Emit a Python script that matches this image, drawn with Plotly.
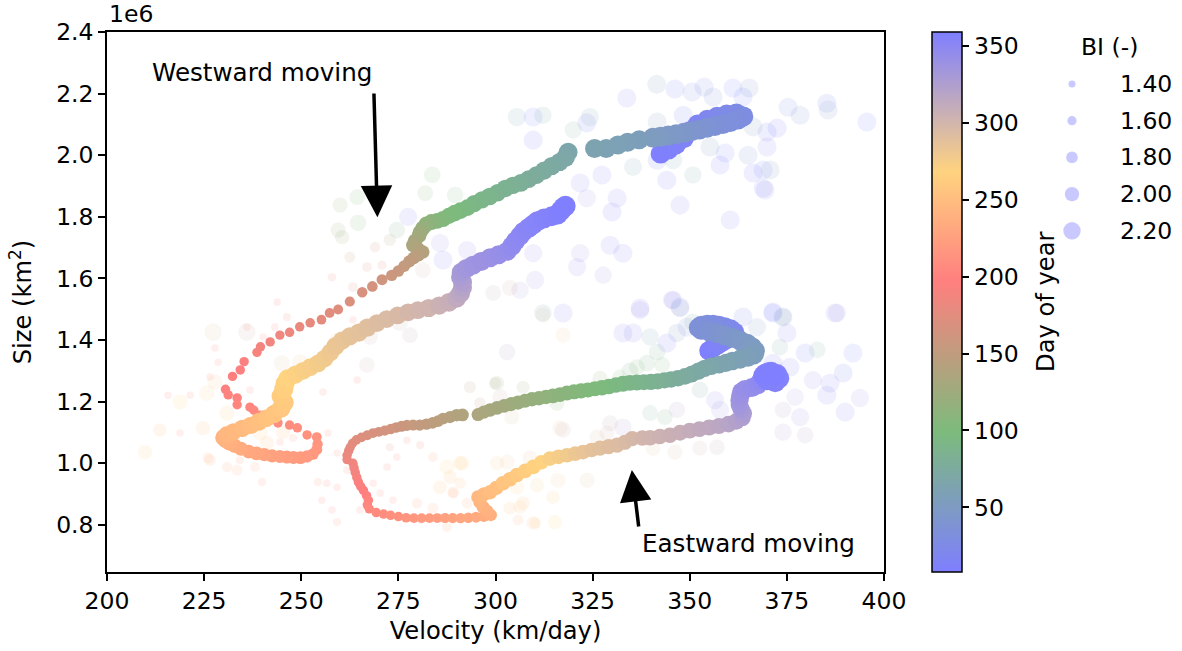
import plotly.graph_objects as go

# ---------------- smoothed tracks (day of year, velocity km/day, size 1e6 km^2, BI) ----
west_day = [8, 10, 12, 14, 16, 18, 20, 22, 24, 26,
            28, 30, 32, 34, 36, 38, 40, 42, 44, 46,
            48, 50, 52, 55, 57, 59, 61, 63, 66, 68,
            70, 72, 74, 76, 78, 80, 82, 84, 86, 88,
            90, 92, 94, 96, 98, 100, 103, 106, 110, 114,
            118, 122, 126, 130, 134, 137, 140, 143, 146, 149,
            152, 155, 158, 161, 164, 167, 170, 173, 175, 177,
            179, 181, 183, 185, 187, 189, 191, 193, 195, 197,
            199, 200, 201, 202, 204, 205, 206, 208, 209, 210,
            212, 214, 216, 217, 218, 219, 220, 221, 222, 224,
            226, 228, 230, 232, 234, 236, 238, 240, 242, 244,
            246, 248, 250, 252, 254, 256, 258, 260, 262, 264,
            266, 268, 270, 272, 274, 276, 278, 280, 282, 284,
            286, 288, 290, 292, 294, 296, 298, 300, 302, 305,
            308, 312, 316, 320, 324, 328, 331, 334, 336, 338,
            340, 342, 344, 346, 348, 350, 351, 352, 353, 354,
            355, 356, 357, 358, 358, 359]
west_vel = [342.5, 344.5, 346.5, 348.5, 350.0, 352.0, 354.5, 357.0, 359.5, 362.0,
            363.8, 362.5, 360.5, 358.5, 356.5, 354.5, 352.5, 350.5, 348.5, 346.5,
            344.5, 342.5, 340.5, 337.0, 334.0, 331.5, 328.5, 325.5, 318.7, 318.0,
            316.5, 314.5, 312.5, 310.5, 308.5, 306.5, 304.5, 302.5, 300.5, 298.5,
            296.5, 294.5, 292.8, 291.0, 289.5, 288.0, 286.5, 285.0, 283.5, 282.2,
            281.3, 280.6, 280.3, 279.3, 278.8, 280.0, 281.3, 280.2, 279.0, 277.8,
            276.5, 275.0, 273.3, 270.8, 268.3, 265.7, 262.5, 259.5, 257.3, 255.2,
            252.3, 249.6, 247.0, 244.5, 242.0, 239.5, 238.6, 235.3, 234.3, 232.3,
            230.5, 231.2, 233.5, 233.5, 236.8, 237.8, 239.5, 244.0, 247.0, 249.0,
            251.5, 254.0, 254.2, 254.0, 253.0, 251.5, 249.8, 248.0, 246.3, 244.5,
            242.5, 240.5, 238.5, 236.5, 234.5, 232.8, 231.5, 230.5, 230.0, 230.8,
            232.5, 234.8, 237.0, 239.0, 241.0, 243.0, 244.8, 245.6, 244.8, 245.5,
            245.8, 246.5, 248.5, 250.5, 252.3, 254.3, 256.0, 257.5, 258.8, 260.5,
            262.5, 264.8, 267.0, 269.5, 272.0, 274.8, 277.5, 280.0, 282.8, 285.5,
            288.0, 290.0, 291.0, 291.5, 291.5, 291.0, 291.2, 292.5, 294.2, 296.3,
            298.6, 300.8, 303.0, 304.2, 305.2, 306.3, 307.2, 308.5, 309.7, 310.8,
            312.5, 314.5, 316.0, 316.8, 317.5, 318.0]
west_size = [2.005, 2.018, 2.035, 2.055, 2.078, 2.100, 2.115, 2.125, 2.132, 2.136,
             2.126, 2.116, 2.108, 2.101, 2.095, 2.089, 2.083, 2.078, 2.073, 2.068,
             2.064, 2.060, 2.057, 2.050, 2.042, 2.033, 2.022, 2.022, 2.010, 1.992,
             1.978, 1.965, 1.950, 1.935, 1.922, 1.910, 1.902, 1.892, 1.878, 1.866,
             1.855, 1.843, 1.830, 1.820, 1.812, 1.803, 1.793, 1.787, 1.783, 1.776,
             1.763, 1.750, 1.738, 1.722, 1.708, 1.697, 1.686, 1.676, 1.667, 1.655,
             1.640, 1.624, 1.610, 1.596, 1.574, 1.555, 1.525, 1.499, 1.488, 1.466,
             1.456, 1.443, 1.425, 1.416, 1.394, 1.378, 1.360, 1.330, 1.303, 1.282,
             1.240, 1.222, 1.212, 1.190, 1.182, 1.172, 1.156, 1.131, 1.124, 1.115,
             1.092, 1.085, 1.062, 1.045, 1.030, 1.022, 1.018, 1.019, 1.020, 1.022,
             1.024, 1.028, 1.032, 1.038, 1.047, 1.057, 1.066, 1.075, 1.083, 1.093,
             1.102, 1.113, 1.123, 1.134, 1.146, 1.160, 1.178, 1.197, 1.218, 1.240,
             1.258, 1.275, 1.288, 1.300, 1.312, 1.324, 1.340, 1.360, 1.380, 1.398,
             1.412, 1.424, 1.440, 1.455, 1.468, 1.480, 1.490, 1.497, 1.504, 1.512,
             1.522, 1.535, 1.552, 1.570, 1.588, 1.605, 1.620, 1.632, 1.643, 1.655,
             1.667, 1.677, 1.688, 1.705, 1.722, 1.738, 1.752, 1.764, 1.775, 1.786,
             1.795, 1.802, 1.808, 1.820, 1.830, 1.835]
west_bi = [2.35, 2.35, 2.35, 2.35, 2.35, 2.35, 2.35, 2.35, 2.35, 2.35,
           2.35, 2.35, 2.35, 2.35, 2.35, 2.35, 2.35, 2.35, 2.35, 2.35,
           2.35, 2.35, 2.35, 2.30, 2.30, 2.30, 2.30, 2.30, 2.28, 2.28,
           2.25, 2.25, 2.25, 2.22, 2.22, 2.22, 2.20, 2.20, 2.20, 2.20,
           2.18, 2.18, 2.15, 2.15, 2.15, 2.12, 2.12, 2.10, 2.10, 2.08,
           2.05, 2.05, 2.02, 2.00, 1.98, 1.95, 1.92, 1.90, 1.88, 1.85,
           1.82, 1.80, 1.78, 1.75, 1.72, 1.70, 1.68, 1.66, 1.65, 1.64,
           1.63, 1.62, 1.62, 1.62, 1.62, 1.62, 1.62, 1.62, 1.62, 1.62,
           1.62, 1.62, 1.62, 1.62, 1.62, 1.62, 1.62, 1.62, 1.62, 1.62,
           1.62, 1.65, 1.70, 1.75, 1.80, 1.85, 1.88, 1.90, 1.90, 1.90,
           1.92, 1.92, 1.95, 1.95, 1.98, 2.00, 2.05, 2.10, 2.15, 2.15,
           2.18, 2.20, 2.20, 2.22, 2.22, 2.25, 2.28, 2.30, 2.30, 2.30,
           2.30, 2.28, 2.25, 2.22, 2.22, 2.22, 2.22, 2.22, 2.25, 2.25,
           2.25, 2.25, 2.25, 2.22, 2.22, 2.22, 2.22, 2.22, 2.25, 2.25,
           2.28, 2.28, 2.30, 2.30, 2.30, 2.30, 2.30, 2.30, 2.30, 2.30,
           2.30, 2.30, 2.30, 2.32, 2.32, 2.32, 2.32, 2.35, 2.35, 2.35,
           2.35, 2.35, 2.38, 2.38, 2.38, 2.38]

east_day = [8, 10, 12, 14, 16, 18, 20, 22, 24, 26,
            28, 30, 32, 34, 36, 38, 40, 42, 44, 46,
            48, 50, 52, 54, 56, 58, 60, 62, 64, 66,
            68, 70, 72, 74, 76, 78, 80, 82, 84, 86,
            88, 90, 92, 94, 96, 98, 100, 102, 104, 106,
            108, 110, 112, 114, 116, 118, 120, 122, 124, 126,
            128, 130, 132, 134, 137, 139, 141, 143, 145, 147,
            149, 151, 153, 155, 157, 159, 161, 163, 165, 167,
            169, 171, 173, 175, 177, 179, 181, 183, 185, 187,
            189, 191, 193, 195, 197, 199, 201, 203, 205, 207,
            209, 211, 213, 215, 217, 219, 221, 223, 225, 227,
            229, 231, 233, 235, 237, 239, 241, 243, 245, 247,
            250, 252, 255, 257, 260, 263, 266, 269, 272, 275,
            278, 281, 284, 287, 289, 291, 293, 295, 297, 300,
            302, 304, 306, 308, 310, 312, 314, 316, 319, 322,
            325, 328, 331, 334, 336, 338, 340, 342, 344, 346,
            348, 350, 352, 353, 354, 355, 356, 357, 358, 358,
            359]
east_vel = [355.0, 356.0, 357.2, 358.5, 359.8, 361.0, 361.5, 360.5, 359.0, 357.5,
            356.0, 354.5, 353.0, 352.3, 353.0, 355.0, 357.0, 359.0, 361.0, 363.0,
            364.8, 366.0, 366.8, 366.5, 365.0, 363.0, 361.0, 359.3, 357.5, 355.5,
            353.8, 352.2, 350.5, 348.8, 347.0, 345.2, 343.5, 341.8, 340.0, 338.2,
            336.4, 334.6, 332.8, 331.0, 329.2, 327.4, 325.6, 323.8, 322.0, 320.2,
            318.4, 316.6, 314.8, 313.0, 311.2, 309.4, 307.6, 305.8, 304.0, 302.2,
            300.4, 298.6, 297.0, 295.5, 291.5, 290.0, 288.3, 286.5, 285.2, 283.8,
            282.2, 280.5, 278.8, 277.2, 275.8, 274.4, 273.0, 271.5, 270.0, 268.5,
            267.0, 265.5, 264.2, 263.2, 262.6, 262.2, 261.8, 261.8, 263.3, 263.6,
            263.9, 264.3, 264.7, 265.3, 266.0, 266.8, 267.3, 267.0, 267.5, 269.3,
            271.2, 273.0, 275.0, 277.0, 279.0, 281.0, 283.0, 285.0, 287.0, 289.0,
            291.0, 293.0, 295.0, 297.0, 298.8, 297.8, 296.8, 296.0, 295.5, 297.0,
            298.6, 300.2, 301.9, 303.7, 305.5, 307.6, 309.7, 311.8, 314.0, 316.2,
            318.4, 320.5, 322.5, 324.7, 326.9, 329.1, 331.3, 333.3, 335.2, 337.8,
            339.8, 342.3, 344.9, 347.5, 350.0, 352.5, 355.0, 357.5, 360.0, 362.0,
            363.5, 363.8, 363.2, 362.8, 362.8, 363.0, 363.3, 364.2, 366.0, 367.5,
            368.3, 368.8, 369.5, 371.0, 372.5, 373.0, 372.0, 370.0, 369.0, 370.5,
            372.0]
east_size = [1.365, 1.375, 1.385, 1.395, 1.405, 1.415, 1.425, 1.435, 1.442, 1.447,
             1.450, 1.450, 1.447, 1.440, 1.433, 1.428, 1.422, 1.415, 1.407, 1.398,
             1.388, 1.377, 1.365, 1.353, 1.345, 1.338, 1.332, 1.326, 1.320, 1.315,
             1.308, 1.299, 1.290, 1.282, 1.276, 1.272, 1.269, 1.266, 1.264, 1.263,
             1.262, 1.261, 1.258, 1.254, 1.249, 1.245, 1.242, 1.238, 1.235, 1.232,
             1.228, 1.223, 1.219, 1.215, 1.211, 1.208, 1.203, 1.197, 1.192, 1.186,
             1.180, 1.173, 1.166, 1.158, 1.157, 1.156, 1.150, 1.145, 1.137, 1.131,
             1.127, 1.124, 1.124, 1.123, 1.120, 1.116, 1.111, 1.106, 1.102, 1.098,
             1.091, 1.084, 1.076, 1.065, 1.052, 1.040, 1.026, 1.012, 1.000, 0.985,
             0.970, 0.954, 0.939, 0.925, 0.912, 0.895, 0.880, 0.865, 0.852, 0.840,
             0.835, 0.831, 0.827, 0.823, 0.822, 0.822, 0.822, 0.822, 0.822, 0.822,
             0.822, 0.823, 0.825, 0.828, 0.832, 0.845, 0.858, 0.874, 0.890, 0.899,
             0.906, 0.920, 0.935, 0.948, 0.962, 0.975, 0.988, 1.003, 1.015, 1.021,
             1.026, 1.031, 1.036, 1.043, 1.049, 1.054, 1.059, 1.068, 1.080, 1.082,
             1.083, 1.087, 1.091, 1.099, 1.106, 1.111, 1.116, 1.121, 1.127, 1.136,
             1.148, 1.162, 1.176, 1.190, 1.204, 1.218, 1.232, 1.240, 1.246, 1.255,
             1.268, 1.280, 1.292, 1.297, 1.290, 1.276, 1.264, 1.270, 1.285, 1.296,
             1.285]
east_bi = [2.35, 2.35, 2.35, 2.35, 2.35, 2.35, 2.35, 2.35, 2.35, 2.35,
           2.35, 2.35, 2.35, 2.35, 2.35, 2.35, 2.35, 2.35, 2.35, 2.35,
           2.35, 2.35, 2.35, 2.35, 2.32, 2.30, 2.28, 2.25, 2.22, 2.20,
           2.20, 2.18, 2.18, 2.15, 2.15, 2.15, 2.12, 2.12, 2.12, 2.10,
           2.10, 2.10, 2.10, 2.08, 2.08, 2.08, 2.05, 2.05, 2.05, 2.05,
           2.03, 2.03, 2.03, 2.00, 2.00, 2.00, 1.98, 1.98, 1.98, 1.95,
           1.95, 1.95, 1.92, 1.90, 1.88, 1.86, 1.84, 1.82, 1.80, 1.80,
           1.78, 1.76, 1.75, 1.75, 1.74, 1.72, 1.70, 1.68, 1.66, 1.65,
           1.65, 1.64, 1.63, 1.62, 1.62, 1.62, 1.62, 1.62, 1.62, 1.62,
           1.62, 1.62, 1.62, 1.62, 1.62, 1.62, 1.62, 1.62, 1.62, 1.62,
           1.62, 1.62, 1.63, 1.64, 1.65, 1.65, 1.65, 1.66, 1.67, 1.68,
           1.70, 1.72, 1.75, 1.80, 1.85, 1.88, 1.90, 1.92, 1.95, 1.98,
           2.00, 2.00, 2.02, 2.02, 2.02, 2.02, 2.02, 2.02, 2.02, 2.02,
           2.02, 2.02, 2.02, 2.02, 2.05, 2.05, 2.05, 2.05, 2.05, 2.08,
           2.08, 2.08, 2.08, 2.10, 2.10, 2.10, 2.12, 2.12, 2.15, 2.15,
           2.18, 2.20, 2.20, 2.22, 2.25, 2.25, 2.28, 2.28, 2.30, 2.30,
           2.30, 2.32, 2.35, 2.35, 2.35, 2.38, 2.38, 2.38, 2.38, 2.38,
           2.38]

# ---------------- daily values (drawn faint) ----------------
raw_day = [50, 15, 25, 30, 40, 10, 45, 10, 350, 50, 20, 60, 70, 350, 355, 5, 15, 60, 50, 10,
           360, 40, 55, 20, 5, 30, 40, 20, 45, 10, 350, 10, 5, 50, 355, 60, 10, 70, 5, 80,
           15, 60, 355, 350, 340, 350, 5, 340, 345, 335, 350, 355, 340, 345, 310, 330, 300, 350, 290, 280,
           350, 345, 60, 355, 40, 350, 350,
           100, 95, 110, 105, 120, 100, 115, 130, 90, 350, 160, 150, 140, 170, 175, 180, 170, 190, 185, 195,
           340, 350, 300, 345,
           290, 300, 200, 195, 200, 205, 200, 195, 270, 260, 255, 240, 230, 235, 220, 215, 225, 250, 210, 215,
           255, 260, 290, 280, 200, 300, 190, 210, 205, 215, 220, 200, 210, 205, 200, 215, 195, 200, 190, 195,
           180, 190, 185, 225, 270, 260, 250, 240, 230, 210, 205, 235, 225, 220, 185, 300, 310, 305, 190, 280,
           260, 250, 200, 265, 205, 210, 235, 280,
           320, 140, 130, 300, 145, 150, 290, 110, 300, 295, 310, 265, 250, 275, 280, 285, 270, 275, 280, 290,
           260, 255, 250, 245, 265, 240, 245, 235, 240, 100, 90, 105, 115, 120,
           345, 350, 355, 60, 5, 50, 355, 350, 30, 70, 20, 45, 10, 60, 75, 350, 5, 355, 15, 80,
           345, 350, 20, 10, 340, 350, 355, 330, 320, 340, 320, 325, 340, 85, 95, 90, 70, 345, 340, 320,
           90, 80, 325, 300, 310, 295, 290, 300, 285, 60, 120, 250, 255]
raw_vel = [341.5, 346.2, 350.6, 353.7, 356.0, 361.1, 365.3, 363.7, 333.8, 341.6, 348.3, 345.7, 350.8, 347.5, 360.4, 344.1, 341.6, 335.4, 355.2, 359.1,
           357.8, 365.0, 366.3, 369.9, 372.5, 375.3, 378.4, 385.3, 385.6, 395.6, 369.9, 368.9, 366.3, 370.7, 368.9, 305.5, 309.7, 312.2, 309.7, 320.0,
           323.5, 324.3, 321.8, 327.4, 323.5, 331.3, 330.0, 321.8, 321.0, 327.7, 332.8, 329.5, 310.2, 309.7, 299.4, 306.3, 303.7, 317.4, 312.2, 317.4,
           337.2, 345.4, 347.5, 371.4, 374.0, 387.4, 369.4,
           283.7, 289.6, 281.9, 264.4, 260.0, 264.6, 259.5, 260.5, 274.6, 277.5, 269.0, 262.5, 272.8, 266.9, 270.8, 257.9, 263.3, 243.8, 246.3, 236.0,
           285.7, 286.5, 281.3, 292.7,
           227.3, 236.0, 243.2, 240.2, 227.8, 228.6, 226.5, 236.8, 225.7, 230.9, 224.7, 226.5, 230.9, 233.5, 239.9, 234.2, 238.1, 241.2, 244.5, 247.9,
           245.3, 239.4, 245.0, 249.7, 255.6, 266.9, 264.4, 256.9, 259.2, 261.8, 254.3, 256.6, 259.2, 255.3, 257.9, 259.2, 265.1, 268.5, 272.1, 274.6,
           272.8, 277.2, 280.6, 283.9, 287.5, 290.9, 285.7, 289.1, 279.8, 273.6, 270.3, 283.9, 287.5, 280.6, 264.4, 267.7, 278.0, 275.4, 263.3, 259.2,
           209.8, 213.6, 215.7, 218.8, 218.8, 221.4, 226.0, 227.8,
           303.0, 299.9, 307.1, 301.2, 293.4, 296.0, 304.2, 315.8, 317.4, 326.1, 329.5, 291.4, 288.3, 300.4, 303.0, 308.9, 305.5, 310.7, 316.1, 323.6,
           314.8, 307.1, 303.7, 310.2, 315.3, 305.8, 290.9, 289.1, 292.7, 336.4, 339.0, 332.0, 326.9, 322.5,
           337.2, 332.8, 335.4, 339.8, 344.1, 346.7, 347.5, 345.7, 349.3, 350.8, 363.7, 367.3, 371.4, 374.0, 373.2, 375.0, 371.4, 375.8, 379.7, 382.8,
           381.7, 386.1, 389.5, 392.0, 393.8, 390.0, 385.3, 377.1, 374.0, 378.4, 379.7, 374.0, 387.9, 341.6, 342.9, 334.6, 352.6, 356.5, 357.8, 346.7,
           343.6, 339.8, 332.8, 352.6, 357.0, 346.2, 340.5, 328.7, 316.6, 312.2, 300.4, 306.3, 309.7]
raw_size = [2.23, 2.215, 2.205, 2.221, 2.189, 2.218, 2.218, 2.189, 2.186, 2.108, 2.13, 1.984, 1.936, 1.838, 1.79, 1.919, 1.984, 1.962, 2.027, 2.007,
            1.968, 2.0, 2.092, 2.075, 2.088, 2.156, 2.13, 2.169, 2.147, 2.108, 2.027, 1.952, 1.942, 1.952, 1.893, 2.124, 2.124, 2.13, 2.049, 2.082,
            2.105, 2.124, 1.91, 1.936, 1.861, 1.861, 1.816, 1.682, 1.637, 1.611, 1.682, 1.708, 1.595, 1.682, 1.553, 1.562, 1.569, 1.488, 1.481, 1.416,
            1.504, 1.53, 1.504, 1.491, 1.475, 1.488, 1.887,
            1.936, 1.871, 1.877, 1.864, 1.838, 1.78, 1.757, 1.734, 1.757, 1.8, 1.702, 1.669, 1.725, 1.637, 1.643, 1.604, 1.572, 1.523, 1.475, 1.442,
            1.715, 1.66, 1.627, 1.692,
            1.426, 1.426, 1.442, 1.41, 1.374, 1.328, 1.28, 1.238, 1.228, 1.163, 1.114, 1.01, 0.988, 0.978, 0.939, 1.01, 0.988, 1.066, 1.069, 1.082,
            1.101, 1.098, 1.325, 1.328, 1.231, 1.319, 1.27, 1.098, 1.033, 0.978, 0.939, 0.935, 0.922, 0.88, 0.848, 0.809, 0.848, 0.935, 0.988, 1.02,
            1.052, 1.075, 1.059, 1.02, 0.988, 1.0, 0.922, 0.906, 0.87, 0.88, 0.903, 0.854, 0.793, 0.816, 1.432, 1.41, 1.416, 1.455, 1.465, 1.4,
            1.036, 1.108, 1.221, 1.199, 1.098, 1.221, 1.017, 1.264,
            1.361, 1.26, 1.247, 1.215, 1.247, 1.195, 1.15, 1.195, 1.108, 1.085, 1.13, 1.0, 0.955, 1.0, 1.004, 1.017, 0.922, 0.929, 0.945, 0.945,
            0.89, 0.871, 0.854, 0.806, 0.809, 0.816, 0.936, 0.903, 0.871, 1.312, 1.325, 1.28, 1.276, 1.238,
            1.497, 1.423, 1.423, 1.41, 1.39, 1.423, 1.507, 1.53, 1.442, 1.458, 1.475, 1.442, 1.488, 1.475, 1.377, 1.423, 1.325, 1.312, 1.358, 1.368,
            1.27, 1.26, 1.293, 1.358, 1.212, 1.166, 1.221, 1.215, 1.173, 1.15, 1.091, 1.101, 1.488, 1.361, 1.319, 1.3, 1.238, 1.205, 1.173, 1.173,
            1.15, 1.163, 1.117, 1.049, 1.052, 1.036, 1.049, 1.098, 1.114, 1.488, 1.26, 0.858, 0.806]
raw_bi = [2.30, 2.30, 2.30, 2.30, 2.30, 2.30, 2.30, 2.30, 2.30, 2.30, 2.30, 2.25, 2.20, 2.30, 2.30, 2.30, 2.30, 2.25, 2.30, 2.30,
          2.30, 2.30, 2.30, 2.30, 2.30, 2.30, 2.30, 2.30, 2.30, 2.30, 2.30, 2.30, 2.30, 2.30, 2.30, 2.25, 2.30, 2.20, 2.30, 2.20,
          2.30, 2.25, 2.30, 2.30, 2.25, 2.30, 2.30, 2.25, 2.25, 2.20, 2.30, 2.30, 2.25, 2.25, 2.10, 2.20, 2.10, 2.30, 2.05, 2.05,
          2.30, 2.25, 2.25, 2.30, 2.30, 2.30, 2.30,
          2.15, 2.15, 2.10, 2.10, 2.05, 2.15, 2.05, 2.00, 2.15, 2.25, 1.70, 1.75, 1.85, 1.65, 1.60, 1.55, 1.65, 1.45, 1.50, 1.45,
          2.25, 2.30, 2.10, 2.25,
          2.20, 2.20, 1.45, 1.45, 1.45, 1.45, 1.45, 1.45, 2.10, 2.05, 2.00, 1.80, 1.70, 1.75, 1.55, 1.50, 1.65, 2.00, 1.45, 1.50,
          2.00, 2.05, 2.10, 2.10, 1.45, 2.10, 1.45, 1.45, 1.45, 1.50, 1.55, 1.45, 1.45, 1.45, 1.45, 1.50, 1.45, 1.45, 1.45, 1.45,
          1.50, 1.45, 1.50, 1.65, 2.05, 2.00, 1.95, 1.80, 1.70, 1.45, 1.45, 1.75, 1.65, 1.55, 1.50, 2.10, 2.10, 2.10, 1.45, 2.05,
          2.00, 1.95, 1.45, 2.05, 1.45, 1.45, 1.75, 2.05,
          2.15, 1.85, 1.90, 2.10, 1.85, 1.80, 2.05, 2.05, 2.10, 2.05, 2.10, 2.00, 1.95, 2.00, 2.05, 2.05, 2.00, 2.00, 2.05, 2.05,
          1.95, 1.95, 1.90, 1.80, 2.00, 1.75, 1.80, 1.70, 1.75, 2.10, 2.15, 2.05, 2.05, 2.00,
          2.25, 2.30, 2.30, 2.20, 2.30, 2.25, 2.30, 2.25, 2.30, 2.20, 2.30, 2.25, 2.30, 2.20, 2.15, 2.30, 2.30, 2.30, 2.30, 2.15,
          2.25, 2.30, 2.30, 2.30, 2.25, 2.30, 2.30, 2.20, 2.15, 2.25, 2.15, 2.20, 2.25, 2.15, 2.10, 2.15, 2.15, 2.25, 2.25, 2.15,
          2.10, 2.10, 2.20, 2.05, 2.10, 2.05, 2.05, 2.05, 2.05, 2.20, 2.00, 1.95, 1.95]

# ---------------- axes / legend / colour bar labels ----------------
x_ticks = [200, 225, 250, 275, 300, 325, 350, 375, 400]
y_ticks = [0.8, 1.0, 1.2, 1.4, 1.6, 1.8, 2.0, 2.2, 2.4]
cbar_ticks = [50, 100, 150, 200, 250, 300, 350]
legend_bi = [1.40, 1.60, 1.80, 2.00, 2.20]

FONT = "DejaVu Sans"
FS = 23.5        # tick and legend labels
FS_TITLE = 24.2  # axis titles
FS_NOTE = 24.6   # arrow labels


def bi_to_px(b):
    # marker diameter grows with the square of BI
    return 3.6 * b * b


# cyclic seasonal colour map: winter blue, spring green, summer red, autumn yellow
day_lo = min(min(west_day), min(east_day))
day_hi = max(max(west_day), max(east_day))
season_stops = [(day_lo, "rgb(127,127,255)"), (99, "rgb(124,187,124)"), (197, "rgb(255,127,127)"),
                (268, "rgb(255,211,127)"), (day_hi, "rgb(127,127,255)")]
cscale = [[(d - day_lo) / (day_hi - day_lo), c] for d, c in season_stops]

fig = go.Figure()

fig.add_trace(go.Scatter(
    x=raw_vel, y=raw_size, mode="markers", hoverinfo="skip", showlegend=False,
    marker=dict(color=raw_day, colorscale=cscale, cmin=day_lo, cmax=day_hi,
                size=[bi_to_px(b) for b in raw_bi], opacity=0.13, line=dict(width=0)),
))

for days, vel, size, bi, show in [(west_day, west_vel, west_size, west_bi, True),
                                   (east_day, east_vel, east_size, east_bi, False)]:
    fig.add_trace(go.Scatter(
        x=vel, y=size, mode="markers", showlegend=False,
        marker=dict(color=days, colorscale=cscale, cmin=day_lo, cmax=day_hi,
                    size=[bi_to_px(b) for b in bi], opacity=1, line=dict(width=0),
                    showscale=show,
                    colorbar=dict(
                        thickness=30, len=1, lenmode="fraction", x=0.7689, xanchor="left",
                        y=0.5, yanchor="middle", xpad=0, ypad=0,
                        outlinewidth=1.5, outlinecolor="black",
                        ticks="outside", ticklen=7, tickwidth=1.5, tickcolor="black",
                        tickvals=cbar_ticks, tickfont=dict(family=FONT, size=FS, color="black"),
                    )),
    ))

# size legend drawn on its own small axes
fig.add_trace(go.Scatter(
    x=[0.2286] * len(legend_bi), y=list(range(len(legend_bi))), mode="markers",
    xaxis="x2", yaxis="y2", showlegend=False, hoverinfo="skip",
    marker=dict(color="rgba(127,127,255,0.6)", size=[bi_to_px(b) for b in legend_bi], line=dict(width=0)),
))

annotations = [
    dict(x=0.557, y=i, xref="x2", yref="y2", text=f"{b:.2f}", showarrow=False,
         xanchor="left", yanchor="middle", font=dict(family=FONT, size=FS, color="black"))
    for i, b in enumerate(legend_bi)
]
annotations.append(dict(x=0.493, y=-1, xref="x2", yref="y2", text="BI (-)", showarrow=False,
                        xanchor="center", yanchor="middle", font=dict(family=FONT, size=FS, color="black")))

# colour bar label
annotations.append(dict(x=0.8751, y=0.5, xref="paper", yref="paper", text="Day of year", showarrow=False,
                        textangle=-90, xanchor="center", yanchor="middle",
                        font=dict(family=FONT, size=FS_TITLE, color="black")))

# direction arrows and labels
annotations += [
    dict(x=269.6, y=1.799, ax=268.7, ay=2.205, xref="x", yref="y", axref="x", ayref="y",
         text="", showarrow=True, arrowhead=2, arrowsize=1.8, arrowwidth=3.5, arrowcolor="black"),
    dict(x=211.0, y=2.267, xref="x", yref="y", text="Westward moving", showarrow=False,
         xanchor="left", yanchor="middle", font=dict(family=FONT, size=FS_NOTE, color="black")),
    dict(x=335.1, y=0.978, ax=336.9, ay=0.79, xref="x", yref="y", axref="x", ayref="y",
         text="", showarrow=True, arrowhead=2, arrowsize=1.8, arrowwidth=3.5, arrowcolor="black"),
    dict(x=337.3, y=0.741, xref="x", yref="y", text="Eastward moving", showarrow=False,
         xanchor="left", yanchor="middle", font=dict(family=FONT, size=FS_NOTE, color="black")),
    dict(x=0, y=1, xref="paper", yref="paper", text="1e6", showarrow=False,
         xanchor="left", yanchor="bottom", yshift=2, font=dict(family=FONT, size=FS, color="black")),
]

axis_common = dict(showgrid=False, zeroline=False, showline=True, linecolor="black", linewidth=1.5,
                   mirror=True, ticks="outside", ticklen=7, tickwidth=1.5, tickcolor="black",
                   tickfont=dict(family=FONT, size=FS, color="black"))

fig.update_layout(
    width=1182, height=651,
    margin=dict(l=107, r=2, t=32, b=79, autoexpand=False),
    paper_bgcolor="white", plot_bgcolor="white",
    font=dict(family=FONT, size=FS, color="black"),
    xaxis=dict(domain=[0, 0.72414], range=[200, 400], tickvals=x_ticks,
               title=dict(text="Velocity (km/day)", font=dict(family=FONT, size=FS_TITLE), standoff=8),
               **axis_common),
    yaxis=dict(range=[0.647, 2.4], tickvals=y_ticks, tickformat=".1f",
               title=dict(text="Size (km<sup>2</sup>)", font=dict(family=FONT, size=FS_TITLE), standoff=18),
               **axis_common),
    xaxis2=dict(domain=[0.8695, 1.0], range=[0, 1], visible=False, anchor="y2", fixedrange=True),
    yaxis2=dict(domain=[0, 1], range=[13.297, -1.417], visible=False, anchor="x2", fixedrange=True),
    annotations=annotations,
    showlegend=False,
)

fig.write_html("out.html")
